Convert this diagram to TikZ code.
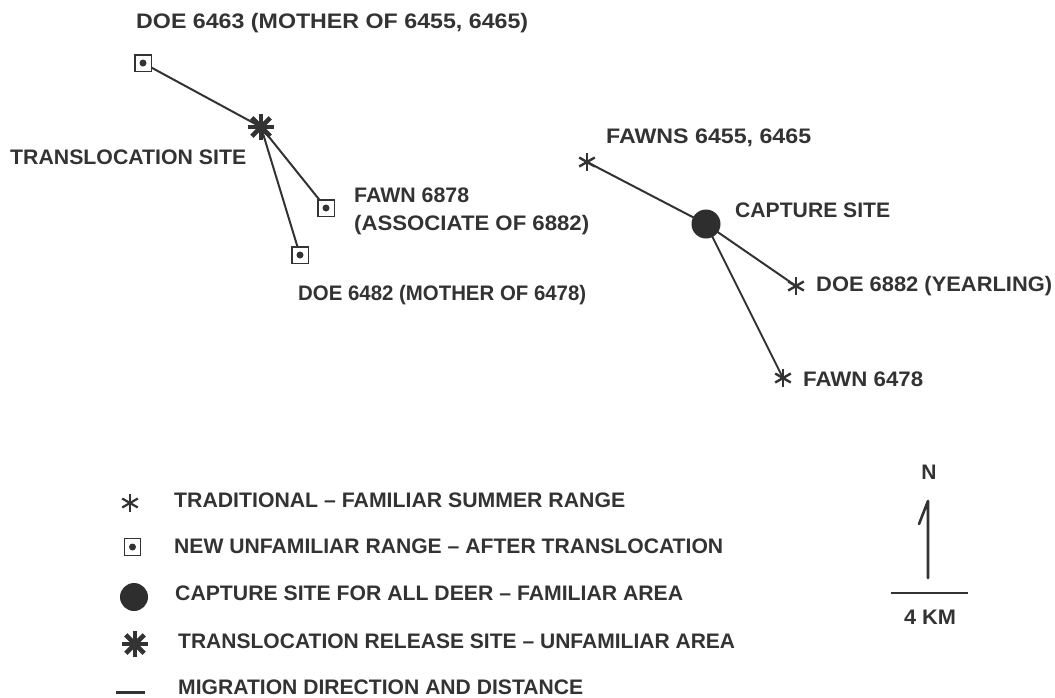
\documentclass[tikz,border=0pt]{standalone}
\usepackage{fontspec}
\usepackage{graphicx}
\setmainfont{Liberation Sans}[BoldFont={Liberation Sans Bold}]
\definecolor{ink}{gray}{0.2}
\newcommand{\aster}[5]{% name,x,y,radius,width
  \coordinate (#1) at (#2,#3);
  \foreach \ang in {0,60,120} {\draw[ink,line width=#5] ([shift={(\ang+90:#4)}]#1) -- ([shift={(\ang+270:#4)}]#1);}
}
\newcommand{\bigaster}[3]{% name,x,y
  \coordinate (#1) at (#2,#3);
  \foreach \ang in {0,45,90,135} {\draw[ink,line width=4.6pt] ([shift={(\ang:13)}]#1) -- ([shift={(\ang+180:13)}]#1);}
}
\newcommand{\fitw}[2]{\resizebox{#1pt}{\height}{#2}}
\tikzset{
  x=1pt,y=-1pt,
  lbl/.style={anchor=west,inner sep=0pt,font=\fontsize{21}{25}\bfseries,text=ink,align=left},
  link/.style={ink,line width=2pt},
  sq/.style={draw=ink,line width=1.5pt,fill=white,minimum size=16.5pt,inner sep=0pt,
    label={[circle,fill=ink,inner sep=0pt,minimum size=7pt]center:{}}},
  disc/.style={circle,fill=ink!90!black,inner sep=0pt,minimum size=29pt}
}
\begin{document}
\begin{tikzpicture}
\useasboundingbox (0,0) rectangle (1055,697);
% map, left
\bigaster{tsite}{261}{127}
\coordinate (a) at (143,63);
\coordinate (b) at (326,208);
\coordinate (c) at (300,255);
\draw[link] (tsite) -- (a);
\draw[link] (tsite) -- (b);
\draw[link] (tsite) -- (c);
\node[sq] (sqa) at (a) {};
\node[sq] (sqb) at (b) {};
\node[sq] (sqc) at (c) {};
% map, right
\aster{fa}{587}{162}{9}{2.4pt}
\aster{fb}{796}{286}{9}{2.4pt}
\aster{fc}{783}{378}{9}{2.4pt}
\coordinate (csite) at (706,224);
\draw[link] (csite) -- (fa);
\draw[link] (csite) -- (fb);
\draw[link] (csite) -- (fc);
\node[disc] (cd) at (csite) {};
% labels
\node[lbl] (l1) at (136,23) {\fitw{392}{DOE 6463 (MOTHER OF 6455, 6465)}};
\node[lbl] (l2) at (10,157) {\fitw{236}{TRANSLOCATION SITE}};
\node[lbl] (l3) at (354,195) {\fitw{115}{FAWN 6878}};
\node[lbl] (l4) at (354,225) {\fitw{235}{(ASSOCIATE OF 6882)}};
\node[lbl] (l5) at (298,295) {\fitw{288}{DOE 6482 (MOTHER OF 6478)}};
\node[lbl] (l6) at (606,138) {\fitw{205}{FAWNS 6455, 6465}};
\node[lbl] (l7) at (735,210) {\fitw{155}{CAPTURE SITE}};
\node[lbl] (l8) at (816,286) {\fitw{236}{DOE 6882 (YEARLING)}};
\node[lbl] (l9) at (803,379) {\fitw{120}{FAWN 6478}};
% legend
\aster{k1}{130}{503}{9}{2.2pt}
\node[sq,minimum size=16.5pt,line width=1.2pt] (k2) at (132.5,547) {};
\node[disc,minimum size=28pt] (k3) at (134,597) {};
\bigaster{k4}{135}{644}
\coordinate (k5a) at (116,692);
\coordinate (k5b) at (145,692);
\draw[ink,line width=3pt] (k5a) -- (k5b);
\node[lbl] (t1) at (174,500) {\fitw{451}{TRADITIONAL -- FAMILIAR SUMMER RANGE}};
\node[lbl] (t2) at (174,546) {\fitw{549}{NEW UNFAMILIAR RANGE -- AFTER TRANSLOCATION}};
\node[lbl] (t3) at (175,593) {\fitw{508}{CAPTURE SITE FOR ALL DEER -- FAMILIAR AREA}};
\node[lbl] (t4) at (178,641) {\fitw{557}{TRANSLOCATION RELEASE SITE -- UNFAMILIAR AREA}};
\node[lbl] (t5) at (178,687) {\fitw{405}{MIGRATION DIRECTION AND DISTANCE}};
% scale
\node[lbl,anchor=center] (n) at (929,472) {N};
\coordinate (n0) at (928,578);
\coordinate (n1) at (928,501);
\coordinate (n2) at (919,524);
\draw[ink,line width=2.6pt,line join=round,line cap=round] (n0) -- (n1) -- (n2);
\coordinate (s0) at (891,593);
\coordinate (s1) at (968,593);
\draw[ink,line width=2.2pt] (s0) -- (s1);
\node[lbl,anchor=center] (km) at (930,617) {\fitw{52}{4 KM}};
\end{tikzpicture}
\end{document}
